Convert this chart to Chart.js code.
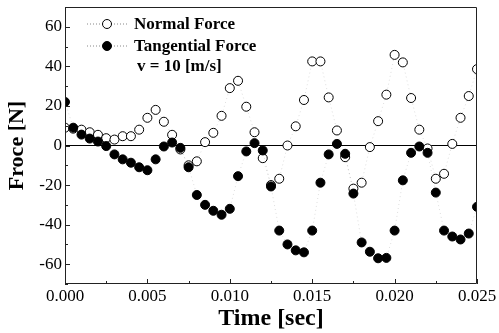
<!DOCTYPE html>
<html>
<head>
<meta charset="utf-8">
<script src="https://cdn.jsdelivr.net/npm/chart.js@4/dist/chart.umd.min.js"></script>
<style>
  html, body { margin: 0; padding: 0; background: #fff; }
  #wrap { width: 499px; height: 333px; }
</style>
</head>
<body>
<div id="wrap"><canvas id="forceChart" width="499" height="333"></canvas></div>
<script>
// sample times [sec]
const times = [
  0.0000, 0.0005, 0.0010, 0.0015, 0.0020, 0.0025, 0.0030, 0.0035, 0.0040, 0.0045,
  0.0050, 0.0055, 0.0060, 0.0065, 0.0070, 0.0075, 0.0080, 0.0085, 0.0090, 0.0095,
  0.0100, 0.0105, 0.0110, 0.0115, 0.0120, 0.0125, 0.0130, 0.0135, 0.0140, 0.0145,
  0.0150, 0.0155, 0.0160, 0.0165, 0.0170, 0.0175, 0.0180, 0.0185, 0.0190, 0.0195,
  0.0200, 0.0205, 0.0210, 0.0215, 0.0220, 0.0225, 0.0230, 0.0235, 0.0240, 0.0245,
  0.0250
];

// Normal force [N] (open circles)
const normalForce = [
  9, 8.5, 8, 6.7, 5.4, 3.7, 3, 4.7, 4.7, 8,
  14, 18, 12, 5.4, -2, -10, -8, 1.7, 6.4, 15,
  29, 32.7, 19.6, 6.7, -6.4, -20, -16.8, 0, 9.7, 23,
  42.5, 42.5, 24.3, 7.6, -5.9, -21.8, -18.8, -0.8, 12.3, 25.7,
  45.8, 42, 24, 8, -1.5, -16.8, -14.3, 0.8, 14, 25,
  38.6
];

// Tangential force [N] (filled circles)
const tangentialForce = [
  22, 9, 5.5, 3.5, 2, -0.3, -4.5, -7, -8.7, -11,
  -12.5, -7, -0.5, 1.5, -1.2, -11, -25, -30, -33, -35,
  -32, -15.5, -3, 1.2, -2.5, -20.7, -43, -50, -53, -54,
  -43, -18.8, -4.5, 0.8, -4.2, -24.3, -49, -53.7, -57, -56.8,
  -43, -17.6, -3.7, -0.5, -3.7, -23.8, -43, -46, -47.5, -44.5,
  -31
];

// axis ticks (every other one is a minor tick without label)
const xTicks = [0, 0.0025, 0.005, 0.0075, 0.01, 0.0125, 0.015, 0.0175, 0.02, 0.0225, 0.025];
const xLabels = ['0.000', '0.005', '0.010', '0.015', '0.020', '0.025'];
const yTicks = [-70, -60, -50, -40, -30, -20, -10, 0, 10, 20, 30, 40, 50, 60, 70];
const yLabels = [-60, -40, -20, 0, 20, 40, 60];

const serif = "'Liberation Serif', 'DejaVu Serif', serif";

function toPoints(vals) {
  return times.map((t, i) => ({ x: t, y: vals[i] }));
}

// frame, inside ticks and the legend box
const framePlugin = {
  id: 'frame',
  afterDraw(chart) {
    const c = chart.ctx;
    const a = chart.chartArea;
    const x = chart.scales.x;
    const y = chart.scales.y;
    c.save();
    c.setLineDash([]);
    c.strokeStyle = '#222';
    c.lineWidth = 1;
    c.beginPath();
    c.rect(Math.round(a.left) + 0.5, Math.round(a.top) + 0.5,
      Math.round(a.right - a.left) - 1, Math.round(a.bottom - a.top) - 1);
    c.stroke();

    c.beginPath();
    x.ticks.forEach((t, i) => {
      const px = Math.round(x.getPixelForValue(t.value)) + 0.5;
      const len = i % 2 === 0 ? 5 : 3;
      c.moveTo(px, a.bottom);
      c.lineTo(px, a.bottom - len);
    });
    y.ticks.forEach(t => {
      const py = Math.round(y.getPixelForValue(t.value)) + 0.5;
      const len = t.value % 20 === 0 ? 5 : 3;
      c.moveTo(a.left, py);
      c.lineTo(a.left + len, py);
    });
    c.stroke();

    // legend
    const rows = [
      { label: 'Normal Force', filled: false, y: 24 },
      { label: 'Tangential Force', filled: true, y: 46 }
    ];
    c.font = 'bold 17px ' + serif;
    c.textBaseline = 'middle';
    rows.forEach(r => {
      c.strokeStyle = '#888';
      c.setLineDash([1, 2]);
      c.beginPath();
      c.moveTo(87, r.y);
      c.lineTo(128, r.y);
      c.stroke();
      c.setLineDash([]);
      c.beginPath();
      c.arc(107, r.y, 4.5, 0, Math.PI * 2);
      c.fillStyle = r.filled ? '#000' : '#fff';
      c.fill();
      c.strokeStyle = '#000';
      c.stroke();
      c.fillStyle = '#000';
      c.fillText(r.label, 134, r.y + 1);
    });
    c.fillText('v = 10 [m/s]', 137, 67);
    c.restore();
  }
};

const ctx = document.getElementById('forceChart').getContext('2d');
new Chart(ctx, {
  type: 'scatter',
  data: {
    datasets: [
      {
        label: 'Tangential Force',
        data: toPoints(tangentialForce),
        order: 0,
        showLine: true,
        borderColor: 'rgba(120,120,120,0.35)',
        borderWidth: 0.7,
        borderDash: [1, 3],
        pointRadius: 4.5,
        pointBackgroundColor: '#000',
        pointBorderColor: '#000',
        pointBorderWidth: 1
      },
      {
        label: 'Normal Force',
        data: toPoints(normalForce),
        order: 1,
        showLine: true,
        borderColor: 'rgba(120,120,120,0.35)',
        borderWidth: 0.7,
        borderDash: [1, 3],
        pointRadius: 4.5,
        pointBackgroundColor: '#fff',
        pointBorderColor: '#000',
        pointBorderWidth: 1
      }
    ]
  },
  options: {
    responsive: false,
    animation: false,
    layout: { padding: { left: 0, right: 22, top: 7, bottom: 0 } },
    plugins: {
      legend: { display: false },
      tooltip: { enabled: false }
    },
    scales: {
      x: {
        type: 'linear',
        min: 0,
        max: 0.025,
        border: { display: false },
        grid: { display: false, drawTicks: false },
        afterBuildTicks: s => { s.ticks = xTicks.map(v => ({ value: v })); },
        ticks: {
          autoSkip: false,
          maxRotation: 0,
          padding: 2,
          color: '#000',
          font: { family: serif, size: 17 },
          callback: (v, i) => (i % 2 === 0 ? xLabels[i / 2] : '')
        },
        title: {
          display: true,
          text: 'Time [sec]',
          color: '#000',
          font: { family: serif, size: 24, weight: 'bold' },
          padding: { top: 0, bottom: 0 }
        },
        afterFit: s => { s.height = 49; s.paddingLeft = 0; s.paddingRight = 0; }
      },
      y: {
        type: 'linear',
        min: -70,
        max: 70,
        border: { display: false },
        grid: {
          drawTicks: false,
          color: c => (c.tick && c.tick.value === 0 ? '#000' : 'rgba(0,0,0,0)')
        },
        afterBuildTicks: s => { s.ticks = yTicks.map(v => ({ value: v })); },
        ticks: {
          autoSkip: false,
          padding: 3,
          color: '#000',
          font: { family: serif, size: 17 },
          callback: v => (yLabels.includes(v) ? String(v) : '')
        },
        title: {
          display: true,
          text: 'Froce [N]',
          color: '#000',
          font: { family: serif, size: 22, weight: 'bold' },
          padding: { top: 4, bottom: 0 }
        },
        afterFit: s => { s.width = 65; s.paddingTop = 0; s.paddingBottom = 0; }
      }
    }
  },
  plugins: [framePlugin]
});
</script>
</body>
</html>
